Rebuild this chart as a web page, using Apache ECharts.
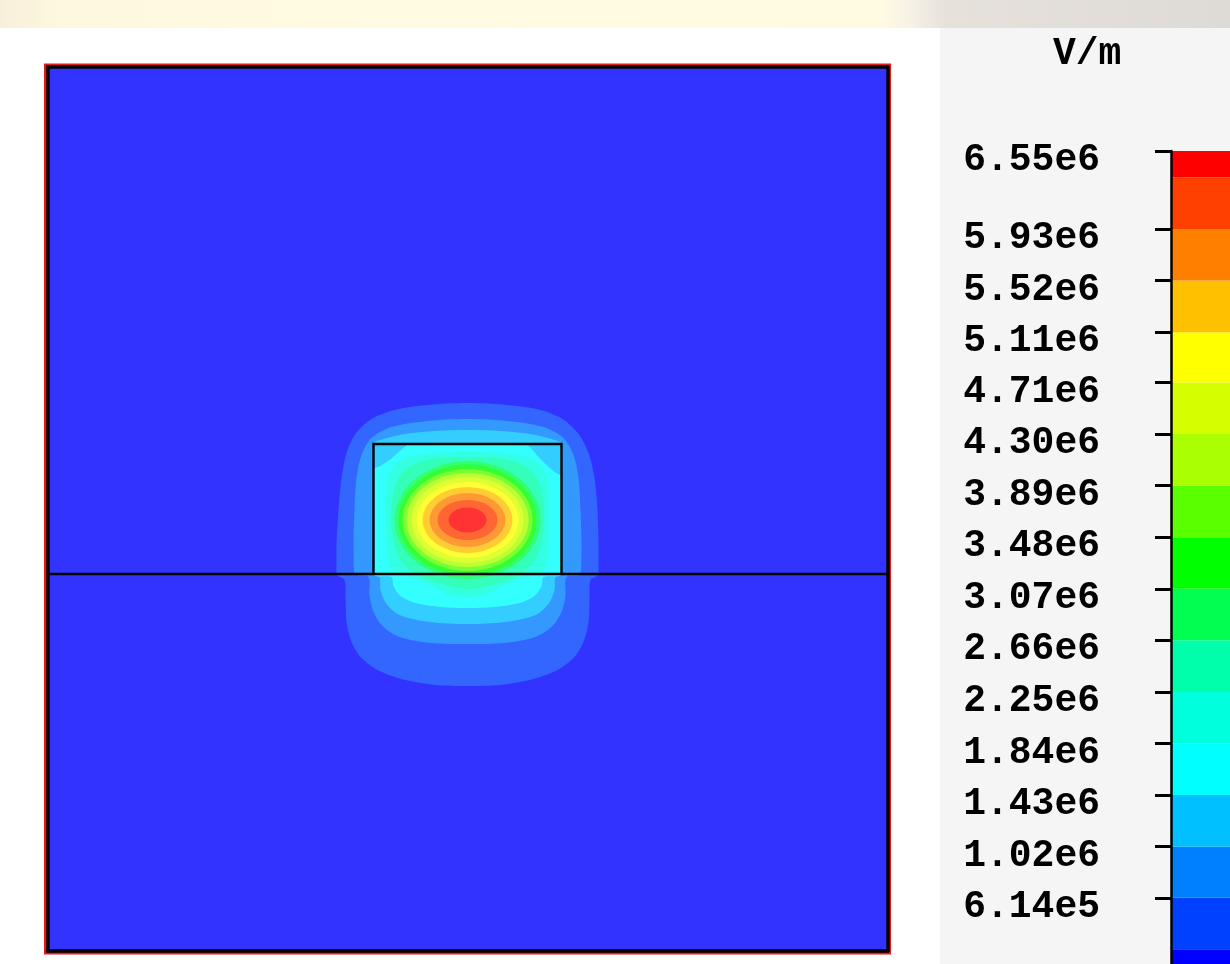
<!DOCTYPE html>
<html>
<head>
<meta charset="utf-8">
<title>Mode field |E|</title>
<script src="https://cdn.jsdelivr.net/npm/echarts@6/dist/echarts.min.js"></script>
<style>
  html, body { margin: 0; padding: 0; }
  #chart {
    width: 1230px; height: 964px;
    background:
      linear-gradient(to right, #f8efda 0px, #fdf8df 60px, #fffce2 400px, #fffbe3 880px, #f5f0e5 915px, #e6e1db 945px, #dedad6 1230px) 0 0 / 1230px 28px no-repeat,
      linear-gradient(#f5f5f5, #f5f5f5) 940px 28px / 290px 936px no-repeat,
      #ffffff;
  }
</style>
</head>
<body>
<div id="chart"></div>
<script>
// ---- colour scale (V/m) ----
const levelBounds = [0, 2.05e5, 6.14e5, 1.02e6, 1.43e6, 1.84e6, 2.25e6, 2.66e6, 3.07e6,
                     3.48e6, 3.89e6, 4.30e6, 4.71e6, 5.11e6, 5.52e6, 5.93e6, 6.34e6, 6.55e6];
const tickValues = [6.55e6, 5.93e6, 5.52e6, 5.11e6, 4.71e6, 4.30e6, 3.89e6, 3.48e6,
                    3.07e6, 2.66e6, 2.25e6, 1.84e6, 1.43e6, 1.02e6, 6.14e5];
const tickLabels = ['6.55e6', '5.93e6', '5.52e6', '5.11e6', '4.71e6', '4.30e6', '3.89e6', '3.48e6',
                    '3.07e6', '2.66e6', '2.25e6', '1.84e6', '1.43e6', '1.02e6', '6.14e5'];
const bandColors = ['#0000ff', '#0040ff', '#0080ff', '#00c0ff', '#00ffff', '#00ffdc', '#00ffaa', '#00ff50',
                    '#00ff00', '#5aff00', '#aaff00', '#d5ff00', '#ffff00', '#ffc000', '#ff8000', '#ff4000', '#ff0000'];

// ---- structure (µm): waveguide core on the substrate ----
const coreOutline = [[-0.94, 0], [-0.94, 1.30], [0.94, 1.30], [0.94, 0]];
const substrateLine = [[-4.2, 0], [4.2, 0]];

// ---- iso-field contours, outer boundary of each band (levels 1..6) ----
const fieldContour1 = [[-1.31, 0], [-1.31, 0.29], [-1.29, 0.64], [-1.26, 0.96], [-1.21, 1.21], [-1.12, 1.40], [-0.96, 1.55],
  [-0.73, 1.64], [-0.40, 1.69], [0, 1.71], [0.40, 1.69], [0.73, 1.64], [0.95, 1.55], [1.11, 1.40], [1.21, 1.21],
  [1.27, 0.96], [1.30, 0.64], [1.31, 0.29], [1.31, 0], [1.23, -0.06], [1.22, -0.26], [1.21, -0.48], [1.16, -0.68],
  [1.06, -0.84], [0.88, -0.97], [0.62, -1.06], [0.32, -1.11], [0, -1.12], [-0.32, -1.11], [-0.62, -1.06],
  [-0.88, -0.97], [-1.06, -0.84], [-1.16, -0.68], [-1.21, -0.48], [-1.22, -0.26], [-1.23, -0.06]];
const fieldContour2 = [[-1.13, 0], [-1.14, 0.29], [-1.13, 0.64], [-1.11, 0.96], [-1.06, 1.19], [-0.96, 1.36], [-0.76, 1.47],
  [-0.40, 1.53], [0, 1.55], [0.40, 1.53], [0.76, 1.47], [0.96, 1.36], [1.06, 1.19], [1.11, 0.96], [1.13, 0.64],
  [1.14, 0.29], [1.13, 0], [0.99, -0.03], [0.98, -0.21], [0.94, -0.38], [0.85, -0.52], [0.68, -0.63], [0.37, -0.69],
  [0, -0.70], [-0.37, -0.69], [-0.68, -0.63], [-0.85, -0.52], [-0.94, -0.38], [-0.98, -0.21], [-0.99, -0.03]];
const fieldContour3 = [[-0.94, 0], [-0.94, 1.30], [-0.84, 1.35], [-0.63, 1.40], [-0.33, 1.43], [0, 1.44], [0.33, 1.43],
  [0.63, 1.40], [0.84, 1.35], [0.94, 1.30], [0.94, 0], [0.88, -0.03], [0.87, -0.16], [0.81, -0.30], [0.68, -0.41],
  [0.38, -0.48], [0, -0.50], [-0.38, -0.48], [-0.68, -0.41], [-0.81, -0.30], [-0.87, -0.16], [-0.88, -0.03]];
const fieldContour4 = [[-0.94, 1.04], [-0.87, 1.08], [-0.78, 1.14], [-0.70, 1.21], [-0.63, 1.27], [-0.58, 1.30],
  [0.58, 1.30], [0.64, 1.25], [0.71, 1.17], [0.79, 1.09], [0.87, 1.02], [0.94, 0.97], [0.94, 0], [0.76, -0.03],
  [0.74, -0.12], [0.67, -0.22], [0.52, -0.29], [0.27, -0.33], [0, -0.34], [-0.27, -0.33], [-0.52, -0.29],
  [-0.67, -0.22], [-0.74, -0.12], [-0.76, -0.03], [-0.94, 0]];
const fieldContour5 = [[0, 1.22], [-0.33, 1.21], [-0.58, 1.17], [-0.73, 1.09], [-0.80, 0.94], [-0.82, 0.74], [-0.82, 0.44],
  [-0.80, 0.19], [-0.76, 0.04], [-0.68, -0.01], [-0.51, -0.05], [-0.36, -0.12], [-0.18, -0.21], [0, -0.23],
  [0.18, -0.21], [0.36, -0.12], [0.51, -0.05], [0.68, -0.01], [0.76, 0.04], [0.80, 0.19], [0.82, 0.44],
  [0.82, 0.74], [0.80, 0.94], [0.73, 1.09], [0.58, 1.17], [0.33, 1.21]];
const fieldContour6 = [[0, 1.17], [-0.28, 1.16], [-0.48, 1.12], [-0.63, 1.04], [-0.72, 0.89], [-0.76, 0.69], [-0.76, 0.49],
  [-0.73, 0.29], [-0.67, 0.14], [-0.58, 0.04], [-0.44, -0.04], [-0.28, -0.09], [-0.13, -0.14], [0, -0.15],
  [0.13, -0.14], [0.28, -0.09], [0.44, -0.04], [0.58, 0.04], [0.67, 0.14], [0.73, 0.29], [0.76, 0.49],
  [0.76, 0.69], [0.72, 0.89], [0.63, 1.04], [0.48, 1.12], [0.28, 1.16]];

// ---- inner closed contours (levels 7..16): centre and semi-axes, µm ----
const ellipseLevels = [7, 8, 9, 10, 11, 12, 13, 14, 15, 16];
const ellipseCx = [0, 0, 0, 0, 0, 0, 0, 0, 0, 0];
const ellipseCy = [0.54, 0.54, 0.54, 0.54, 0.54, 0.54, 0.54, 0.54, 0.54, 0.54];
const ellipseRx = [0.73, 0.69, 0.65, 0.61, 0.56, 0.51, 0.45, 0.38, 0.30, 0.19];
const ellipseRy = [0.59, 0.555, 0.51, 0.47, 0.43, 0.38, 0.33, 0.27, 0.20, 0.125];

// ---------------------------------------------------------------
const contourShapes = [fieldContour1, fieldContour2, fieldContour3, fieldContour4, fieldContour5, fieldContour6];

// the field plot is shown with a light white wash over the colour scale
function wash(hex, t) {
  const n = parseInt(hex.slice(1), 16);
  const mix = c => Math.round(c + (255 - c) * t);
  return 'rgb(' + mix((n >> 16) & 255) + ',' + mix((n >> 8) & 255) + ',' + mix(n & 255) + ')';
}
const fieldColors = bandColors.map(c => wash(c, 0.2));

const labelFont = { fontFamily: 'Liberation Mono', fontWeight: 'bold', fontSize: 38, color: '#000' };
const frameLine = { show: true, onZero: false, lineStyle: { color: '#000', width: 3.5 } };
const plainAxis = { axisTick: { show: false }, axisLabel: { show: false }, splitLine: { show: false }, z: 10 };

function tickText(v) {
  const i = tickValues.findIndex(t => Math.abs(t - v) < 1);
  return i >= 0 ? tickLabels[i] : '';
}

const chart = echarts.init(document.getElementById('chart'), null, { renderer: 'canvas' });
chart.setOption({
  animation: false,
  backgroundColor: 'transparent',
  title: { text: 'V/m', left: 1048, top: 30, textStyle: labelFont },
  grid: [
    { left: 47.5, top: 67, width: 840, height: 884, show: true, backgroundColor: 'transparent',
      borderColor: '#e41a1a', borderWidth: 7, outerBoundsMode: 'none' },
    // the colour bar runs on past the lower edge of the view
    { left: 1171, top: 151, width: 80, height: 824, outerBoundsMode: 'none' }
  ],
  xAxis: [
    Object.assign({ gridIndex: 0, type: 'value', min: -4.2, max: 4.2, position: 'bottom', axisLine: frameLine }, plainAxis),
    Object.assign({ gridIndex: 0, type: 'value', min: -4.2, max: 4.2, position: 'top', axisLine: frameLine }, plainAxis),
    { gridIndex: 1, type: 'value', min: 0, max: 1, show: false }
  ],
  yAxis: [
    Object.assign({ gridIndex: 0, type: 'value', min: -3.77, max: 5.07, position: 'left', axisLine: frameLine }, plainAxis),
    Object.assign({ gridIndex: 0, type: 'value', min: -3.77, max: 5.07, position: 'right', axisLine: frameLine }, plainAxis),
    {
      gridIndex: 1, type: 'value', min: 0, max: 6.55e6, position: 'left', z: 10,
      axisLine: { show: true, onZero: false, lineStyle: { color: '#000', width: 2.5 } },
      axisTick: { show: true, inside: false, length: 16, customValues: tickValues, lineStyle: { color: '#000', width: 3 } },
      axisLabel: Object.assign({
        show: true, margin: 71, customValues: tickValues, verticalAlign: 'top', lineHeight: 19,
        formatter: tickText
      }, labelFont),
      splitLine: { show: false }
    }
  ],
  series: [
    { // background field level
      type: 'custom', xAxisIndex: 0, yAxisIndex: 0, z: 1, silent: true, data: [[0, 0]],
      renderItem: (params) => {
        const cs = params.coordSys;
        return { type: 'rect', shape: { x: cs.x, y: cs.y, width: cs.width, height: cs.height },
                 style: { fill: fieldColors[0] } };
      }
    },
    { // open contours around the core
      type: 'custom', xAxisIndex: 0, yAxisIndex: 0, z: 2, silent: true,
      data: contourShapes.map((s, i) => [i + 1]),
      renderItem: (params, api) => {
        const level = api.value(0);
        const pts = contourShapes[level - 1].map(p => api.coord(p));
        return { type: 'polygon', z2: level,
                 shape: { points: pts, smooth: 0.3, smoothConstraint: [pts[0], pts[0]] },
                 style: { fill: fieldColors[level] } };
      }
    },
    { // closed contours inside the core
      type: 'custom', xAxisIndex: 0, yAxisIndex: 0, z: 3, silent: true,
      data: ellipseLevels.map((lv, i) => [ellipseCx[i], ellipseCy[i], ellipseRx[i], ellipseRy[i], lv]),
      renderItem: (params, api) => {
        const c = api.coord([api.value(0), api.value(1)]);
        const s = api.size([api.value(2), api.value(3)]);
        const lv = api.value(4);
        return { type: 'circle', x: c[0], y: c[1], scaleX: s[0], scaleY: s[1], z2: lv,
                 shape: { cx: 0, cy: 0, r: 1 }, style: { fill: fieldColors[lv] } };
      }
    },
    { // core outline and substrate surface
      type: 'custom', xAxisIndex: 0, yAxisIndex: 0, z: 4, silent: true,
      data: [[0], [1]],
      renderItem: (params, api) => {
        const line = [coreOutline, substrateLine][api.value(0)];
        return { type: 'polyline', shape: { points: line.map(p => api.coord(p)) },
                 style: { stroke: '#000', lineWidth: 2.4, fill: null } };
      }
    },
    { // colour bar
      type: 'custom', xAxisIndex: 2, yAxisIndex: 2, z: 2, silent: true,
      data: bandColors.map((c, i) => [levelBounds[i], levelBounds[i + 1], i]),
      renderItem: (params, api) => {
        const a = api.coord([0, api.value(1)]);
        const b = api.coord([1, api.value(0)]);
        return { type: 'rect', shape: { x: a[0], y: a[1], width: b[0] - a[0], height: b[1] - a[1] },
                 style: { fill: bandColors[api.value(2)] } };
      }
    }
  ]
});
</script>
</body>
</html>
